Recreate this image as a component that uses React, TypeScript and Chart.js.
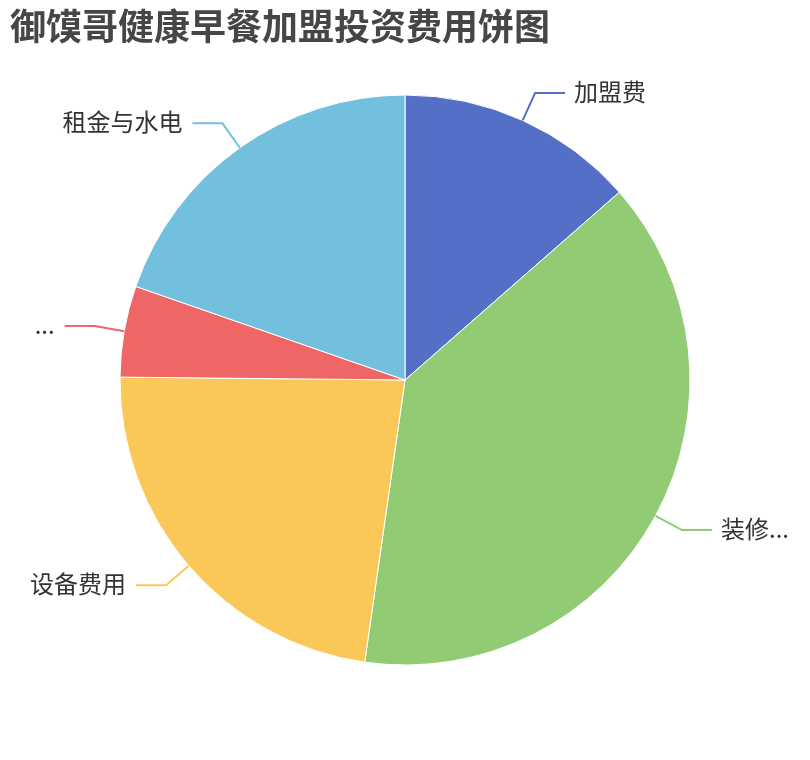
import React, { useEffect, useRef } from "react";
import { Chart, registerables } from "chart.js";

Chart.register(...registerables);

const titleText = "御馍哥健康早餐加盟投资费用饼图";
const categories = ["加盟费", "装修...", "设备费用", "...", "租金与水电"];
const values = [2.1, 6.0, 3.55, 0.8, 3.05];
const colors = ["#5470c6", "#91cc75", "#fac858", "#ee6666", "#73c0de"];

const labelPlugin = {
  id: "echartsLabels",
  afterDatasetsDraw(chart: any) {
    const ctx = chart.ctx;
    const meta = chart.getDatasetMeta(0);
    ctx.save();
    meta.data.forEach((arc: any, i: number) => {
      const { x, y, startAngle, endAngle, outerRadius } = arc.getProps(
        ["x", "y", "startAngle", "endAngle", "outerRadius"],
        true
      );
      const mid = (startAngle + endAngle) / 2;
      const cos = Math.cos(mid);
      const sin = Math.sin(mid);
      const x1 = x + cos * outerRadius;
      const y1 = y + sin * outerRadius;
      const x2 = x + cos * (outerRadius + 30);
      const y2 = y + sin * (outerRadius + 30);
      const right = cos >= 0;
      const x3 = x2 + (right ? 30 : -30);
      ctx.strokeStyle = colors[i];
      ctx.lineWidth = 2;
      ctx.beginPath();
      ctx.moveTo(x1, y1);
      ctx.lineTo(x2, y2);
      ctx.lineTo(x3, y2);
      ctx.stroke();
      ctx.fillStyle = "#333";
      ctx.font = '24px "Noto Sans CJK SC", sans-serif';
      ctx.textBaseline = "middle";
      ctx.textAlign = right ? "left" : "right";
      ctx.fillText(categories[i], x3 + (right ? 9 : -10), y2 - 1.5);
    });
    ctx.restore();
  },
  afterDraw(chart: any) {
    const ctx = chart.ctx;
    ctx.save();
    ctx.fillStyle = "#464646";
    ctx.font = 'bold 36px "Noto Sans CJK SC", sans-serif';
    ctx.textBaseline = "middle";
    ctx.textAlign = "left";
    ctx.fillText(titleText, 10, 26);
    ctx.restore();
  },
};

export default function App() {
  const ref = useRef<HTMLCanvasElement>(null);
  useEffect(() => {
    const chart = new Chart(ref.current!, {
      type: "pie",
      data: {
        labels: categories,
        datasets: [
          {
            data: values,
            backgroundColor: colors,
            borderColor: "#ffffff",
            borderWidth: 1,
            hoverOffset: 0,
            offset: 0,
          },
        ],
      },
      options: {
        animation: false,
        responsive: false,
        devicePixelRatio: 1,
        radius: 285,
        layout: { padding: 0 },
        plugins: {
          legend: { display: false },
          tooltip: { enabled: false },
          title: { display: false },
        },
      } as any,
      plugins: [labelPlugin],
    });
    return () => chart.destroy();
  }, []);
  return (
    <div style={{ position: "absolute", left: 0, top: 0, width: 810, height: 760, background: "#fff" }}>
      <canvas ref={ref} width={810} height={760} style={{ width: 810, height: 760 }} />
    </div>
  );
}
